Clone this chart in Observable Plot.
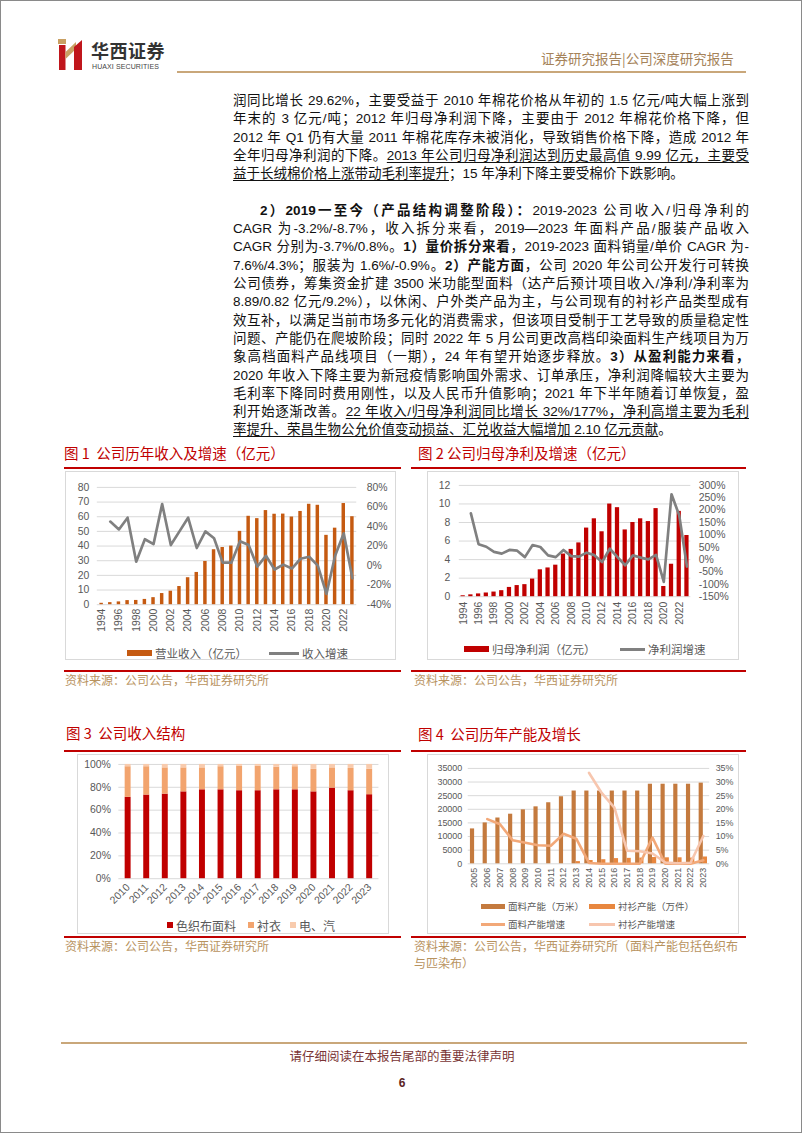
<!DOCTYPE html>
<html><head><meta charset="utf-8">
<script src="https://cdn.jsdelivr.net/npm/d3@7"></script>
<script src="https://cdn.jsdelivr.net/npm/@observablehq/plot@0.6"></script>
<style>
html,body{margin:0;padding:0;background:#fff;}
#page{position:relative;width:802px;height:1133px;box-sizing:border-box;border:1px solid #8a8a8a;overflow:hidden;font-family:"Liberation Sans","Noto Sans CJK SC",sans-serif;}
.abs{position:absolute;}
.ln{position:absolute;left:232px;width:516px;box-sizing:border-box;font-size:13.5px;line-height:18px;height:18px;text-align:justify;text-align-last:justify;color:#111;}
.ln.last{text-align-last:left;}
.ln.ind{padding-left:27px;}
.u{text-decoration:underline;text-underline-offset:2px;}
b{font-weight:bold;}
.ft{position:absolute;color:#C00000;font-size:14.5px;white-space:pre;font-family:"Noto Sans CJK SC",sans-serif;line-height:18px;}
.rl{position:absolute;height:2px;background:#C00000;}
.cap{position:absolute;color:#B8935F;font-size:12px;white-space:pre;font-family:"Noto Sans CJK SC",sans-serif;line-height:16px;}
.box{position:absolute;border:1px solid #D9D9D9;box-sizing:border-box;}
.box svg{position:absolute;left:0;top:0;}
.lg{position:absolute;white-space:nowrap;font-family:"Noto Sans CJK SC",sans-serif;color:#595959;display:flex;align-items:center;}
.sw{display:inline-block;margin-right:3px;}
</style></head>
<body>
<div id="page">
  <!-- header -->
  <svg class="abs" style="left:56px;top:37px" width="28" height="33" viewBox="0 0 28 33">
    <polygon points="1,1 9,1 9,6 1,6" fill="#C9A063"/>
    <rect x="2" y="7" width="6.5" height="25" fill="#C0161C"/>
    <polygon points="8.5,14 19,4 19,11 8.5,21" fill="#C9A063"/>
    <polygon points="17,9 25,2 25,32 17,32" fill="#C0161C"/>
  </svg>
  <div class="abs" style="left:90px;top:38px;font-size:18px;line-height:22px;color:#333;font-family:'Noto Sans CJK SC';font-weight:bold;letter-spacing:0.5px">华西证券</div>
  <div class="abs" style="left:91px;top:61px;font-size:7px;line-height:9px;color:#444;letter-spacing:0.1px">HUAXI SECURITIES</div>
  <div class="abs" style="left:540px;top:48px;font-size:13.5px;line-height:18px;color:#A5835A;font-family:'Noto Sans CJK SC';white-space:pre">证券研究报告<span style="color:#A5835A">|</span>公司深度研究报告</div>
  <div class="abs" style="left:176px;top:70px;width:569px;height:2px;background:#C9A77A"></div>

  <!-- body text -->
  <div id="text"></div>

  <!-- figure titles -->
  <div class="ft" style="left:63px;top:443px">图 1  公司历年收入及增速（亿元）</div>
  <div class="rl" style="left:63px;top:466px;width:337px"></div>
  <div class="ft" style="left:417px;top:443px">图 2 公司归母净利及增速（亿元）</div>
  <div class="rl" style="left:410px;top:466px;width:335px"></div>
  <div class="rl" style="left:63px;top:669px;width:337px;height:1.5px"></div>
  <div class="rl" style="left:410px;top:669px;width:335px;height:1.5px"></div>
  <div class="cap" style="left:64px;top:671px">资料来源：公司公告，华西证券研究所</div>
  <div class="cap" style="left:413px;top:671px">资料来源：公司公告，华西证券研究所</div>

  <div class="ft" style="left:65px;top:723px">图 3  公司收入结构</div>
  <div class="rl" style="left:63px;top:749px;width:337px"></div>
  <div class="ft" style="left:417px;top:724px">图 4  公司历年产能及增长</div>
  <div class="rl" style="left:410px;top:749px;width:335px"></div>
  <div class="rl" style="left:63px;top:935px;width:337px;height:1.5px"></div>
  <div class="rl" style="left:410px;top:935px;width:335px;height:1.5px"></div>
  <div class="cap" style="left:64px;top:937px">资料来源：公司公告，华西证券研究所</div>
  <div class="cap" style="left:413px;top:937px">资料来源：公司公告，华西证券研究所（面料产能包括色织布</div>
  <div class="cap" style="left:413px;top:954px">与匹染布）</div>

  <div id="c1" class="box" style="left:64px;top:470px;width:331px;height:189px"></div>
  <div id="c2" class="box" style="left:426px;top:470px;width:312px;height:189px"></div>
  <div id="c3" class="box" style="left:76px;top:753px;width:312px;height:180px"></div>
  <div id="c4" class="box" style="left:426px;top:753px;width:312px;height:180px"></div>

  <!-- footer -->
  <div class="abs" style="left:60px;top:1041px;width:686px;height:2px;background:#C9A77A"></div>
  <div class="abs" style="left:0;top:1046px;width:802px;text-align:center;font-size:12.5px;line-height:18px;color:#7a3535;font-family:'Noto Sans CJK SC'">请仔细阅读在本报告尾部的重要法律声明</div>
  <div class="abs" style="left:0;top:1074px;width:802px;text-align:center;font-size:12px;line-height:16px;color:#5a1e1e;font-weight:bold">6</div>
</div>
<script>
// ---------------- body text lines ----------------
const para1 = [
  '润同比增长 29.62%，主要受益于 2010 年棉花价格从年初的 1.5 亿元/吨大幅上涨到',
  '年末的 3 亿元/吨；2012 年归母净利润下降，主要由于 2012 年棉花价格下降，但',
  '2012 年 Q1 仍有大量 2011 年棉花库存未被消化，导致销售价格下降，造成 2012 年',
  '全年归母净利润的下降。<span class="u">2013 年公司归母净利润达到历史最高值 9.99 亿元，主要受</span>',
  '<span class="u">益于长绒棉价格上涨带动毛利率提升</span>；15 年净利下降主要受棉价下跌影响。'
];
const para2 = [
  '<b>2）2019一至今（产品结构调整阶段）：</b>2019-2023 公司收入/归母净利的',
  'CAGR 为-3.2%/-8.7%，收入拆分来看，2019—2023 年面料产品/服装产品收入',
  'CAGR 分别为-3.7%/0.8%。<b>1）量价拆分来看</b>，2019-2023 面料销量/单价 CAGR 为-',
  '7.6%/4.3%；服装为 1.6%/-0.9%。<b>2）产能方面</b>，公司 2020 年公司公开发行可转换',
  '公司债券，筹集资金扩建 3500 米功能型面料（达产后预计项目收入/净利/净利率为',
  '8.89/0.82 亿元/9.2%），以休闲、户外类产品为主，与公司现有的衬衫产品类型成有',
  '效互补，以满足当前市场多元化的消费需求，但该项目受制于工艺导致的质量稳定性',
  '问题、产能仍在爬坡阶段；同时 2022 年 5 月公司更改高档印染面料生产线项目为万',
  '象高档面料产品线项目（一期），24 年有望开始逐步释放。<b>3）从盈利能力来看，</b>',
  '2020 年收入下降主要为新冠疫情影响国外需求、订单承压，净利润降幅较大主要为',
  '毛利率下降同时费用刚性，以及人民币升值影响；2021 年下半年随着订单恢复，盈',
  '利开始逐渐改善。<span class="u">22 年收入/归母净利润同比增长 32%/177%，净利高增主要为毛利</span>',
  '<span class="u">率提升、荣昌生物公允价值变动损益、汇兑收益大幅增加 2.10 亿元贡献</span>。'
];
(function(){
  const host = document.getElementById('text');
  const LH = 18.3;
  let html = '';
  para1.forEach((t,i)=>{
    const top = 100 + i*LH - 9;
    html += `<div class="ln${i===para1.length-1?' last':''}" style="top:${top}px">${t}</div>`;
  });
  const p2start = 100 + 6*LH;
  para2.forEach((t,i)=>{
    const top = p2start + i*LH - 9;
    html += `<div class="ln${i===0?' ind':''}${i===para2.length-1?' last':''}" style="top:${top}px">${t}</div>`;
  });
  host.innerHTML = html;
})();

// ---------------- chart data ----------------
// Figure 1
const years1 = [1994,1995,1996,1997,1998,1999,2000,2001,2002,2003,2004,2005,2006,2007,2008,2009,2010,2011,2012,2013,2014,2015,2016,2017,2018,2019,2020,2021,2022,2023];
const yearTicks1 = [1994,1996,1998,2000,2002,2004,2006,2008,2010,2012,2014,2016,2018,2020,2022];
const revenue = [0.95,1.4,1.9,2.8,2.9,3.6,4.8,7.6,9.2,12.4,18.4,22.0,29.5,37.5,39.0,40.0,50.0,60.3,58.7,64.2,61.7,61.8,59.8,63.6,68.5,67.8,47.3,52.2,69.0,60.0];
const revGrowth = [null,45,37,49,4,27,22,63,21,35,49,18,35,28,3,3,25,21,-1,10,-4,1,-3,7,9,0,-29,10,33,-13];
const revLeftTicks = [0,10,20,30,40,50,60,70,80];
const revRightTicks = [-40,-20,0,20,40,60,80];
// Figure 2
const profit = [0.1,0.2,0.3,0.4,0.5,0.65,1.0,1.2,1.3,1.9,2.9,3.1,3.4,4.6,5.1,5.8,7.4,8.4,7.0,9.99,9.6,7.2,8.0,8.4,8.1,9.5,1.1,3.5,9.2,6.6];
const profitGrowth = [null,187,62,52,31,24,39,36,10,59,51,17,10,39,14,12,28,18,-10,44,10,-23,17,8,1,19,-90,264,179,-28];
const profitLeftTicks = [0,2,4,6,8,10,12];
const profitRightTicks = [-150,-100,-50,0,50,100,150,200,250,300];
// Figure 3
const years3 = [2010,2011,2012,2013,2014,2015,2016,2017,2018,2019,2020,2021,2022,2023];
const seriesNames3 = ['色织布面料','衬衣','电、汽'];
const fabricShare = [71.2,73.2,74.0,76.0,77.8,77.8,77.0,77.0,77.8,77.8,76.0,79.3,77.0,73.5];
const shirtShare  = [26.8,24.8,23.0,21.0,19.2,20.2,21.5,21.5,19.7,20.2,19.7,17.7,19.5,22.2];
const powerShare  = [2.0,2.0,3.0,3.0,3.0,2.0,1.5,1.5,2.5,2.0,4.3,3.0,3.5,4.3];
const shareTicks = [0,20,40,60,80,100];
// Figure 4
const years4 = [2005,2006,2007,2008,2009,2010,2011,2012,2013,2014,2015,2016,2017,2018,2019,2020,2021,2022,2023];
const fabricCap = [12800,15000,16800,18200,19800,20900,22400,24600,26700,26700,26700,26700,26700,26700,29200,29200,29200,29200,29600];
const shirtCap  = [null,null,null,null,null,null,null,null,800,1200,1500,1900,2000,2100,2300,2200,2200,2100,2500];
const fabricCapGrowth = [null,16.4,14.5,8.6,7.7,6.8,6.6,11.0,9.2,0.3,0,0,0,0,9.6,0,0,0,1.3];
const shirtCapGrowth  = [null,null,null,null,null,null,null,null,null,33.4,26.0,20.6,4.8,4.6,3.8,0.5,0.2,0.4,10.2];
const capLeftTicks = [0,5000,10000,15000,20000,25000,30000,35000];
const capRightTicks = [0,5,10,15,20,25,30,35];

// ---------------- helpers ----------------
const FONT = '"Liberation Sans","Noto Sans CJK SC",sans-serif';
const yearFmt = d => String(d);
function st(fs){ return {fontFamily:FONT,fontSize:fs+'px',color:'#595959',background:'transparent',overflow:'visible'}; }
function addLegend(box, items, fs){
  items.forEach(it=>{
    const d = document.createElement('div');
    d.className='lg';
    d.style.left = it.x+'px'; d.style.top = (it.y - 9)+'px'; d.style.height='18px';
    d.style.fontSize = fs+'px';
    const s = document.createElement('span');
    s.className='sw';
    s.style.width = it.w+'px'; s.style.height = it.h+'px'; s.style.background = it.c;
    d.appendChild(s);
    d.appendChild(document.createTextNode(it.t));
    box.appendChild(d);
  });
}

// ---------------- Figure 1 ----------------
(function(){
  const box = document.getElementById('c1');
  const data = years1.map((y,i)=>({year:y, v:revenue[i], g:revGrowth[i]}));
  const common = {width:331,height:170,marginLeft:31,marginRight:39,marginTop:15,marginBottom:37,
    style:st(10.5)};
  const xs = {type:'band',domain:years1,paddingInner:0.6,paddingOuter:0.3,round:false};
  const p1 = Plot.plot({...common, x:xs, y:{domain:[0,80]}, marks:[
    Plot.gridY(revLeftTicks,{stroke:'#D9D9D9',strokeOpacity:1}),
    Plot.barY(data,{x:'year',y:'v',fill:'#C55A11'}),
    Plot.axisY({ticks:revLeftTicks,tickSize:0,tickPadding:8,label:null}),
    Plot.axisX({ticks:yearTicks1,tickFormat:yearFmt,tickSize:0,tickPadding:4,tickRotate:-90,label:null})
  ]});
  const p2 = Plot.plot({...common, x:{...xs,axis:null}, y:{domain:[-40,80]}, marks:[
    Plot.line(data.filter(d=>d.g!=null),{x:'year',y:'g',stroke:'#808080',strokeWidth:2.7,strokeLinejoin:'round'}),
    Plot.axisY({anchor:'right',ticks:revRightTicks,tickFormat:d=>d+'%',tickSize:0,tickPadding:10,label:null})
  ]});
  box.appendChild(p1); box.appendChild(p2);
  addLegend(box,[
    {x:61,y:181,w:25,h:6,c:'#C55A11',t:'营业收入（亿元）'},
    {x:203,y:181,w:30,h:3,c:'#808080',t:'收入增速'}
  ],11.5);
})();

// ---------------- Figure 2 ----------------
(function(){
  const box = document.getElementById('c2');
  const data = years1.map((y,i)=>({year:y, v:profit[i], g:profitGrowth[i]}));
  const common = {width:312,height:170,marginLeft:31,marginRight:48,marginTop:13,marginBottom:45,
    style:st(10.5)};
  const xs = {type:'band',domain:years1,paddingInner:0.45,paddingOuter:0.225,round:false};
  const p1 = Plot.plot({...common, x:xs, y:{domain:[0,12]}, marks:[
    Plot.gridY(profitLeftTicks,{stroke:'#D9D9D9',strokeOpacity:1}),
    Plot.barY(data,{x:'year',y:'v',fill:'#C00000'}),
    Plot.axisY({ticks:profitLeftTicks,tickSize:0,tickPadding:9,label:null}),
    Plot.axisX({ticks:yearTicks1,tickFormat:yearFmt,tickSize:0,tickPadding:5,tickRotate:-90,label:null})
  ]});
  const p2 = Plot.plot({...common, x:{...xs,axis:null}, y:{domain:[-150,300]}, marks:[
    Plot.line(data.filter(d=>d.g!=null),{x:'year',y:'g',stroke:'#808080',strokeWidth:2.7,strokeLinejoin:'round'}),
    Plot.axisY({anchor:'right',ticks:profitRightTicks,tickFormat:d=>d+'%',tickSize:0,tickPadding:8,label:null})
  ]});
  box.appendChild(p1); box.appendChild(p2);
  addLegend(box,[
    {x:36,y:177,w:25,h:6,c:'#C00000',t:'归母净利润（亿元）'},
    {x:192,y:177,w:25,h:3,c:'#808080',t:'净利润增速'}
  ],11.5);
})();

// ---------------- Figure 3 ----------------
(function(){
  const box = document.getElementById('c3');
  const colors3 = ['#C00000','#F2A46E','#F8CBAD'];
  const long = [];
  years3.forEach((y,i)=>{
    long.push({year:y, s:seriesNames3[0], v:fabricShare[i]});
    long.push({year:y, s:seriesNames3[1], v:shirtShare[i]});
    long.push({year:y, s:seriesNames3[2], v:powerShare[i]});
  });
  const p = Plot.plot({width:312,height:160,marginLeft:40.6,marginRight:9.6,marginTop:9,marginBottom:36,
    style:st(10.5),
    x:{type:'band',domain:years3,paddingInner:0.68,paddingOuter:0.34,round:false},
    y:{domain:[0,100]},
    color:{domain:seriesNames3,range:colors3},
    marks:[
      Plot.gridY(shareTicks,{stroke:'#D9D9D9',strokeOpacity:1}),
      Plot.barY(long,{x:'year',y:'v',fill:'s'}),
      Plot.axisY({ticks:shareTicks,tickFormat:d=>d+'%',tickSize:0,tickPadding:8,label:null}),
      Plot.axisX({tickFormat:yearFmt,tickSize:0,tickPadding:7,tickRotate:-45,label:null})
    ]});
  box.appendChild(p);
  addLegend(box,[
    {x:89,y:170,w:6,h:6,c:colors3[0],t:seriesNames3[0]},
    {x:170,y:170,w:6,h:6,c:colors3[1],t:seriesNames3[1]},
    {x:212,y:170,w:6,h:6,c:colors3[2],t:seriesNames3[2]}
  ],12);
})();

// ---------------- Figure 4 ----------------
(function(){
  const box = document.getElementById('c4');
  const data = years4.map((y,i)=>({year:y, f:fabricCap[i], s:shirtCap[i], fg:fabricCapGrowth[i], sg:shirtCapGrowth[i]}));
  const W=312, ML=40, MR=29;
  const bw = (W-ML-MR)/years4.length;
  const barW = 4.2;
  const common = {width:W,height:145,marginLeft:ML,marginRight:MR,marginTop:13,marginBottom:36,style:st(9)};
  const xs = {type:'band',domain:years4,padding:0,round:false};
  const p1 = Plot.plot({...common, x:xs, y:{domain:[0,35000]}, marks:[
    Plot.gridY(capLeftTicks,{stroke:'#D9D9D9',strokeOpacity:1}),
    Plot.barY(data,{x:'year',y:'f',fill:'#C47A3E',insetLeft:bw/2-barW,insetRight:bw/2}),
    Plot.barY(data.filter(d=>d.s!=null),{x:'year',y:'s',fill:'#E8873F',insetLeft:bw/2,insetRight:bw/2-barW}),
    Plot.axisY({ticks:capLeftTicks,tickFormat:d=>String(d),tickSize:0,tickPadding:6,label:null}),
    Plot.axisX({tickFormat:yearFmt,tickSize:0,tickPadding:4,tickRotate:-90,label:null})
  ]});
  const p2 = Plot.plot({...common, x:{...xs,axis:null}, y:{domain:[0,35]}, marks:[
    Plot.line(data.filter(d=>d.fg!=null),{x:'year',y:'fg',stroke:'#F2A878',strokeWidth:2.6,strokeLinejoin:'round'}),
    Plot.line(data.filter(d=>d.sg!=null),{x:'year',y:'sg',stroke:'#F7C6AE',strokeWidth:2.6,strokeLinejoin:'round'}),
    Plot.axisY({anchor:'right',ticks:capRightTicks,tickFormat:d=>d+'%',tickSize:0,tickPadding:6,label:null})
  ]});
  box.appendChild(p1); box.appendChild(p2);
  addLegend(box,[
    {x:53,y:151,w:24,h:5,c:'#C47A3E',t:'面料产能（万米）'},
    {x:161,y:151,w:26,h:5,c:'#E8873F',t:'衬衫产能（万件）'},
    {x:53,y:169,w:24,h:3,c:'#F2A878',t:'面料产能增速'},
    {x:161,y:169,w:26,h:3,c:'#F7C6AE',t:'衬衫产能增速'}
  ],9.5);
})();
</script>
</body></html>
